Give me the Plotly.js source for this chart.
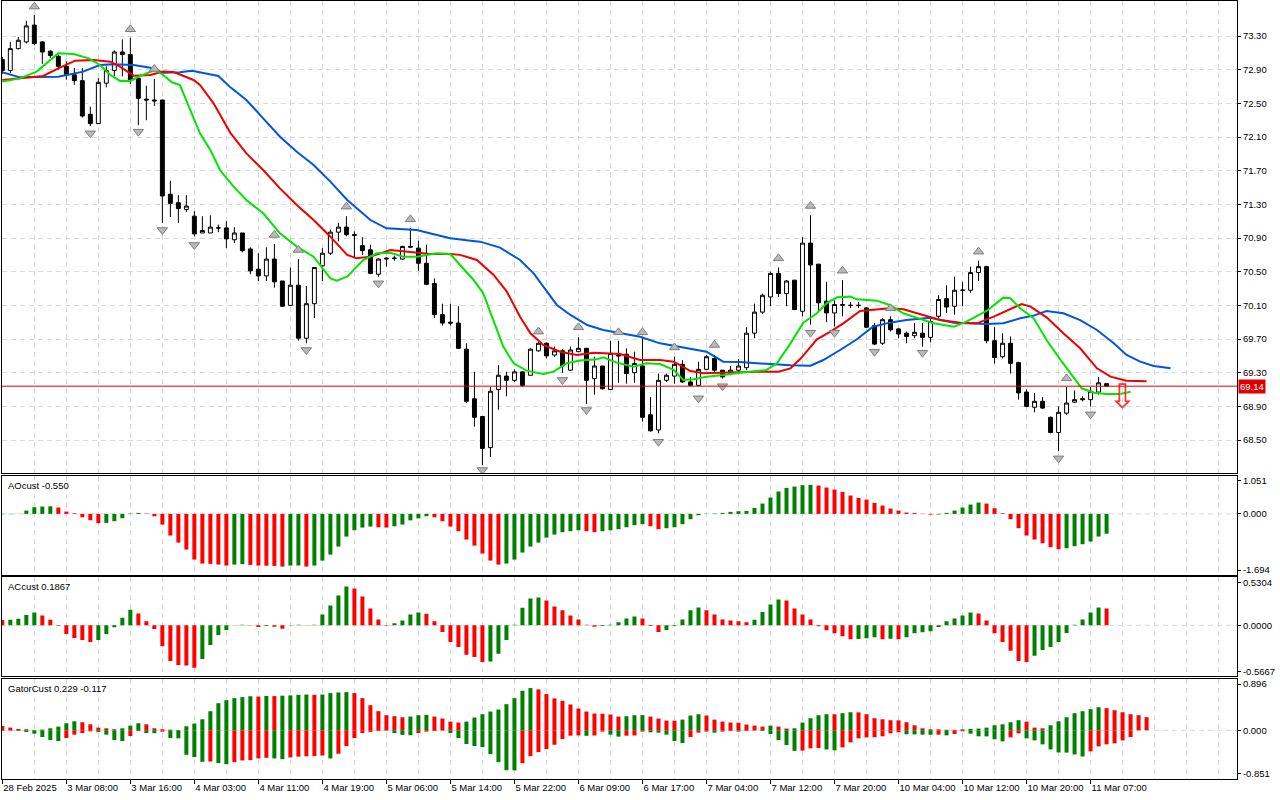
<!DOCTYPE html>
<html>
<head>
<meta charset="utf-8">
<script src="https://cdn.plot.ly/plotly-3.0.1.min.js"></script>
<style>
  html, body { margin: 0; padding: 0; background: #fff; }
  #chart { width: 1280px; height: 800px; }
</style>
</head>
<body>
<div id="chart"></div>
<script>
// H1 bars, 28 Feb 2025 .. 11 Mar 2025
var opens = [
  73.02,72.89,73.15,73.23,73.43,73.23,73.12,73.06,72.94,72.84,
  72.77,72.37,72.26,72.74,72.89,73.11,73.08,72.80,72.55,72.54,
  72.54,71.42,71.32,71.24,71.16,70.96,70.96,71.02,71.02,70.88,
  70.96,70.77,70.53,70.45,70.65,70.39,70.10,70.34,69.71,70.12,
  70.57,70.72,70.97,71.03,70.93,70.81,70.76,70.47,70.65,70.66,
  70.65,70.79,70.78,70.60,70.36,69.99,69.90,69.89,69.58,68.99,
  68.78,68.41,69.10,69.26,69.21,69.31,69.27,69.56,69.65,69.51,
  69.56,69.33,69.55,69.59,69.23,69.38,69.10,69.51,69.52,69.30,
  69.38,68.80,68.62,69.21,69.26,69.40,69.19,69.15,69.34,69.47,
  69.33,69.29,69.33,69.36,69.77,70.02,70.20,70.48,70.24,70.40,
  70.03,70.84,70.59,70.15,70.01,70.10,70.10,70.10,70.07,69.86,
  69.65,69.93,69.82,69.77,69.74,69.77,69.72,69.97,70.18,70.09,
  70.28,70.28,70.49,70.56,69.68,69.49,69.65,69.42,69.07,68.89,
  68.96,68.77,68.59,68.82,68.95,68.98,68.98,69.07,69.17
];
var highs = [
  73.05,73.23,73.29,73.48,73.55,73.24,73.13,73.08,73.00,72.92,
  72.92,72.46,72.80,72.94,73.13,73.26,73.28,72.82,72.71,72.79,
  72.54,71.58,71.41,71.41,71.22,71.16,71.17,71.06,71.10,71.03,
  70.96,70.79,70.72,70.79,70.83,70.39,70.55,70.65,70.33,70.55,
  70.78,71.00,71.08,71.16,70.98,70.91,70.82,70.66,70.67,70.69,
  70.81,71.02,70.87,70.82,70.42,70.12,70.12,70.09,69.65,69.31,
  68.78,69.13,69.39,69.31,69.34,69.32,69.59,69.67,69.66,69.61,
  69.58,69.61,69.72,69.59,69.49,69.38,69.68,69.68,69.59,69.55,
  69.72,69.01,69.29,69.29,69.49,69.45,69.25,69.43,69.51,69.51,
  69.33,69.38,69.46,69.84,70.12,70.24,70.50,70.55,70.40,70.40,
  70.91,71.17,70.59,70.38,70.16,70.40,70.14,70.14,70.08,69.89,
  69.95,69.97,69.83,69.79,69.89,69.89,69.97,70.22,70.34,70.44,
  70.38,70.56,70.63,70.57,69.84,69.77,69.73,69.43,69.10,69.06,
  69.01,68.78,68.90,69.13,69.09,69.02,69.13,69.25,69.17
];
var lows = [
  72.85,72.86,73.14,73.21,73.19,72.97,73.04,72.90,72.78,72.72,
  72.33,72.23,72.26,72.69,72.82,72.82,72.73,72.24,72.30,72.47,
  71.08,71.15,71.08,71.21,70.92,70.96,70.96,70.97,70.78,70.84,
  70.73,70.47,70.39,70.39,70.31,70.08,70.10,69.68,69.65,69.95,
  70.39,70.70,70.86,70.92,70.66,70.70,70.47,70.44,70.56,70.63,
  70.64,70.78,70.51,70.34,69.95,69.86,69.86,69.59,68.94,68.66,
  68.20,68.30,68.86,69.02,69.19,69.13,69.27,69.55,69.47,69.49,
  69.30,69.32,69.55,68.93,69.04,69.10,69.10,69.18,69.17,69.18,
  68.72,68.60,68.58,69.19,69.17,69.18,69.14,69.14,69.33,69.31,
  69.23,69.27,69.29,69.33,69.71,70.00,70.09,70.20,70.09,70.05,
  69.97,69.87,70.03,69.90,69.85,69.97,70.07,70.07,69.84,69.63,
  69.63,69.79,69.71,69.65,69.71,69.61,69.66,69.95,70.01,69.99,
  70.09,70.25,70.39,69.65,69.41,69.47,69.29,68.98,68.89,68.83,
  68.87,68.58,68.37,68.80,68.94,68.96,68.90,69.04,69.14
];
var closes = [
  72.89,73.15,73.25,73.42,73.21,73.11,73.07,72.94,72.84,72.77,
  72.35,72.26,72.75,72.89,73.11,73.08,72.78,72.56,72.54,72.53,
  71.40,71.31,71.25,71.28,70.95,70.99,71.03,71.02,70.89,70.96,
  70.75,70.51,70.45,70.65,70.38,70.09,70.34,69.71,70.12,70.55,
  70.72,70.97,71.03,70.94,70.94,70.75,70.48,70.65,70.66,70.66,
  70.80,70.80,70.60,70.35,69.99,69.89,69.89,69.59,68.96,68.77,
  68.40,69.08,69.27,69.21,69.31,69.15,69.58,69.65,69.50,69.56,
  69.38,69.57,69.59,69.21,69.38,69.11,69.53,69.50,69.29,69.41,
  68.77,68.61,69.21,69.27,69.40,69.19,69.15,69.34,69.49,69.33,
  69.25,69.33,69.38,69.77,70.02,70.22,70.48,70.24,70.39,70.05,
  70.84,70.58,70.13,70.01,70.11,70.11,70.10,70.10,69.84,69.64,
  69.93,69.81,69.76,69.73,69.78,69.72,69.91,70.17,70.08,70.28,
  70.28,70.49,70.56,69.68,69.48,69.65,69.41,69.06,68.90,68.96,
  68.88,68.59,68.83,68.94,68.98,68.99,69.08,69.18,69.14
];

// Alligator lines (bar position, value), already shifted forward
var jawX = [0,2.2,7,10.1,12.2,13.9,16.4,18.5,20.1,22.2,23.7,25.5,27,28.5,30.5,32.6,34.7,36.8,38.9,41,43.1,44.3,46,48,51.8,54.3,56,58.5,59.7,62.2,64.7,66.4,68.1,69.3,71,73.1,75.1,77.2,79.7,82.2,84.7,86,88,90.1,92.2,94.3,96.4,98.5,101,102.6,104.7,106.8,108.8,110.9,113,114.7,116,118.9,123,125.1,127.2,128.9,130.5,132.6,134.7,136.8,138.9,140.5,142.2,143.9,146];
var jawY = [72.869,72.809,72.817,72.877,72.956,72.964,72.956,72.924,72.865,72.869,72.888,72.849,72.825,72.69,72.54,72.322,72.104,71.926,71.768,71.57,71.352,71.253,71.114,71.015,70.996,70.936,70.897,70.869,70.857,70.786,70.639,70.481,70.263,70.105,69.986,69.867,69.808,69.768,69.728,69.649,69.61,69.59,69.55,69.431,69.427,69.412,69.4,69.388,69.384,69.451,69.57,69.697,69.847,69.895,69.926,69.946,69.954,69.895,69.879,69.887,69.946,69.978,70.033,70.006,69.926,69.808,69.649,69.511,69.431,69.38,69.352];
var teethX = [0,2.2,5.1,7,9.1,11.4,13.5,14.7,16.4,18.5,20.1,21.4,22.4,23.9,24.7,26.4,28.5,30.5,32.6,34.7,36.8,38.9,41,43.1,44.3,46,48.5,51,53.5,56,57.2,59.3,61.4,63.05,64.7,66,67.6,69.7,71.8,73.9,76,77.2,79.7,82.2,83.9,86,87.6,90.1,94.3,97,98.5,99.8,101.8,103.5,105.1,107.2,109.3,110.9,112.6,114.5,117.2,119.7,121.8,123.9,126,127.4,128.5,130.5,132.6,134.7,136.8,138.5,140.5,143];
var teethY = [72.778,72.797,72.825,72.916,73.007,73.015,72.995,72.936,72.829,72.837,72.877,72.873,72.837,72.778,72.718,72.50,72.15,71.906,71.708,71.49,71.293,71.114,70.916,70.699,70.659,70.679,70.758,70.738,70.71,70.71,70.70,70.639,70.461,70.263,69.966,69.768,69.63,69.55,69.511,69.538,69.523,69.523,69.451,69.451,69.431,69.32,69.293,69.301,69.313,69.313,69.352,69.471,69.697,69.788,69.887,70.033,70.053,70.065,70.053,70.0,69.926,69.895,69.887,69.966,70.053,70.117,70.085,69.958,69.768,69.59,69.352,69.253,69.206,69.198];
var lipsX = [0,2.2,4.3,7,8.9,10.8,12.2,13.5,14.7,16,17.2,19.1,20.1,21.2,22.2,23.5,24.7,26,27.2,28.9,30.5,32.6,34.7,36.8,38.9,41,41.8,43.1,45.1,46.8,48.5,50.1,51.8,54.3,56,57.2,58.9,60.1,61.4,62.6,63.9,65.5,67.6,68.9,70.5,72.2,74.3,75.1,76.8,78.9,80.5,82.2,83.9,85.1,86.4,88,90.1,92.2,95.5,96.8,98.5,100.1,101.8,103,104.3,106,106.8,109.3,110.9,112.6,114.5,116.4,118.9,120.5,123.05,125.1,126,127.2,128.9,130.5,132.2,133.5,134.9,136.4,138,139.7,141];
var lipsY = [72.758,72.797,72.877,73.094,73.087,73.035,72.956,72.837,72.766,72.766,72.825,72.896,72.837,72.75,72.718,72.421,72.144,71.946,71.708,71.51,71.352,71.194,70.956,70.798,70.679,70.421,70.394,70.441,70.639,70.718,70.726,70.679,70.679,70.718,70.71,70.58,70.402,70.243,69.926,69.61,69.412,69.325,69.285,69.313,69.412,69.444,69.459,69.483,69.42,69.372,69.412,69.404,69.333,69.214,69.222,69.253,69.273,69.301,69.333,69.412,69.649,69.895,70.006,70.124,70.196,70.204,70.172,70.156,70.105,70.006,69.946,69.887,69.847,69.907,70.037,70.192,70.184,70.065,69.946,69.689,69.459,69.293,69.115,69.063,69.047,69.047,69.075];

// Fractal arrows (bar, price of the arrow)
var fracUpBar = [4,16,19,34,37,43,51,67,72,77,80,84,89,97,101,105,111,122,133];
var fracUpVal = [73.649,73.38,72.908,70.936,70.758,71.273,71.122,69.788,69.84,69.78,69.78,69.60,69.63,70.659,71.281,70.512,70.065,70.738,69.233];
var fracDnBar = [11,17,20,24,38,47,60,70,73,82,87,90,101,104,109,115,132,136];
var fracDnVal = [72.144,72.164,70.996,70.818,69.57,70.362,68.144,69.214,68.857,68.48,68.996,69.14,69.776,69.776,69.55,69.538,68.283,68.806];
// sell signal arrow
var signalBar = [140];
var signalVal = [68.98];

var ao = [
  -0.01,-0.008,0.005,0.092,0.185,0.203,0.21,0.176,0.065,0.018,
  -0.092,-0.176,-0.259,-0.25,-0.203,-0.12,0.01,0.028,0.01,-0.065,
  -0.296,-0.60,-0.795,-0.989,-1.266,-1.377,-1.385,-1.404,-1.432,-1.404,
  -1.395,-1.414,-1.432,-1.436,-1.441,-1.46,-1.432,-1.43,-1.46,-1.432,
  -1.294,-1.127,-0.906,-0.628,-0.453,-0.379,-0.351,-0.37,-0.379,-0.342,
  -0.296,-0.18,-0.125,-0.065,-0.092,-0.203,-0.351,-0.48,-0.711,-0.878,
  -1.10,-1.294,-1.404,-1.377,-1.266,-1.072,-0.906,-0.795,-0.656,-0.573,
  -0.508,-0.48,-0.453,-0.48,-0.508,-0.48,-0.453,-0.425,-0.37,-0.314,
  -0.286,-0.342,-0.425,-0.397,-0.37,-0.286,-0.148,-0.037,0.005,0.01,
  0.028,0.055,0.074,0.083,0.166,0.286,0.453,0.619,0.721,0.758,
  0.795,0.804,0.785,0.73,0.675,0.61,0.508,0.444,0.397,0.305,
  0.231,0.148,0.092,0.037,0.028,-0.005,-0.02,-0.015,0.028,0.092,
  0.176,0.259,0.314,0.286,0.157,0.018,-0.148,-0.397,-0.60,-0.711,
  -0.813,-0.924,-0.98,-0.952,-0.896,-0.841,-0.767,-0.628,-0.55
];
var ac = [
  0.06,0.063,0.074,0.114,0.143,0.11,0.063,-0.005,-0.096,-0.14,
  -0.162,-0.184,-0.162,-0.096,-0.022,0.085,0.173,0.132,0.044,-0.04,
  -0.232,-0.394,-0.441,-0.445,-0.471,-0.372,-0.217,-0.107,-0.052,0.004,
  0.007,0.004,-0.018,-0.008,-0.015,-0.037,0.004,0.007,0.004,0.007,
  0.121,0.221,0.331,0.43,0.408,0.32,0.188,0.066,-0.004,0.022,
  0.055,0.121,0.143,0.129,0.044,-0.074,-0.184,-0.239,-0.327,-0.35,
  -0.405,-0.40,-0.316,-0.162,0.007,0.195,0.298,0.309,0.276,0.21,
  0.166,0.11,0.066,0.007,-0.015,-0.007,0.007,0.033,0.077,0.099,
  0.077,-0.007,-0.074,-0.052,-0.007,0.066,0.166,0.199,0.166,0.121,
  0.066,0.055,0.044,0.033,0.063,0.147,0.232,0.287,0.276,0.188,
  0.121,0.066,-0.011,-0.055,-0.088,-0.121,-0.155,-0.152,-0.143,-0.132,
  -0.155,-0.15,-0.155,-0.132,-0.088,-0.077,-0.066,-0.018,0.044,0.077,
  0.11,0.143,0.132,0.055,-0.088,-0.184,-0.283,-0.394,-0.405,-0.338,
  -0.272,-0.239,-0.184,-0.085,0.007,0.066,0.143,0.199,0.1867
];
var gatorUp = [
  0.076,0.047,0.023,0.018,0.006,0.012,0.035,0.064,0.123,0.158,
  0.141,0.105,0.047,0.035,0.018,0.035,0.082,0.123,0.105,0.035,
  0.018,0.012,0.006,0.07,0.117,0.193,0.334,0.474,0.527,0.562,
  0.58,0.595,0.59,0.60,0.598,0.605,0.61,0.62,0.625,0.62,
  0.625,0.65,0.662,0.668,0.65,0.562,0.439,0.334,0.264,0.246,
  0.228,0.24,0.264,0.27,0.24,0.205,0.152,0.135,0.152,0.223,
  0.281,0.328,0.363,0.457,0.562,0.691,0.738,0.715,0.633,0.557,
  0.515,0.451,0.381,0.328,0.293,0.29,0.275,0.24,0.246,0.264,
  0.266,0.24,0.205,0.17,0.168,0.187,0.258,0.281,0.258,0.187,
  0.152,0.135,0.133,0.1,0.082,0.064,0.082,0.064,0.03,0.035,
  0.135,0.211,0.264,0.281,0.28,0.299,0.316,0.314,0.281,0.211,
  0.193,0.176,0.174,0.141,0.088,0.035,0.018,0.017,0.01,0.008,
  0.018,0.025,0.03,0.047,0.088,0.105,0.141,0.176,0.152,0.047,
  0.035,0.088,0.158,0.228,0.299,0.334,0.369,0.404,0.387,0.351,
  0.316,0.281,0.264,0.229
];
var gatorDown = [
  -0.01,-0.006,-0.012,-0.029,-0.059,-0.117,-0.17,-0.188,-0.135,-0.076,
  -0.047,-0.018,-0.029,-0.076,-0.17,-0.188,-0.10,-0.012,-0.047,-0.05,
  -0.023,-0.135,-0.14,-0.428,-0.469,-0.551,-0.545,-0.574,-0.592,-0.557,
  -0.527,-0.521,-0.492,-0.48,-0.492,-0.504,-0.474,-0.46,-0.455,-0.45,
  -0.44,-0.492,-0.41,-0.275,-0.135,-0.047,-0.029,-0.012,-0.006,-0.047,
  -0.08,-0.085,-0.047,-0.023,-0.012,-0.006,-0.047,-0.135,-0.24,-0.275,
  -0.293,-0.416,-0.557,-0.697,-0.70,-0.574,-0.451,-0.381,-0.328,-0.252,
  -0.152,-0.094,-0.09,-0.096,-0.09,-0.023,-0.076,-0.111,-0.094,-0.09,
  -0.023,-0.035,-0.041,-0.076,-0.187,-0.223,-0.117,-0.041,-0.023,-0.041,
  -0.023,-0.012,-0.023,-0.012,-0.006,-0.012,-0.064,-0.17,-0.258,-0.36,
  -0.355,-0.315,-0.31,-0.334,-0.351,-0.299,-0.211,-0.141,-0.123,-0.12,
  -0.105,-0.053,-0.035,-0.07,-0.072,-0.076,-0.078,-0.076,-0.088,-0.064,
  -0.018,-0.059,-0.105,-0.107,-0.158,-0.193,-0.123,-0.053,-0.141,-0.176,
  -0.246,-0.334,-0.387,-0.39,-0.422,-0.457,-0.369,-0.281,-0.246,-0.228,
  -0.176,-0.117
];

var tickLabels = ['28 Feb 2025','3 Mar 08:00','3 Mar 16:00','4 Mar 03:00','4 Mar 11:00','4 Mar 19:00',
  '5 Mar 06:00','5 Mar 14:00','5 Mar 22:00','6 Mar 09:00','6 Mar 17:00','7 Mar 04:00','7 Mar 12:00',
  '7 Mar 20:00','10 Mar 04:00','10 Mar 12:00','10 Mar 20:00','11 Mar 07:00'];
var tickBars = [0,8,16,24,32,40,48,56,64,72,80,88,96,104,112,120,128,136];
var priceTicks = [68.50,68.90,69.30,69.70,70.10,70.50,70.90,71.30,71.70,72.10,72.50,72.90,73.30];
var aoRange = [-1.694, 1.051];
var acRange = [-0.5667, 0.5304];
var gatorRange = [-0.851, 0.896];

var GREEN = '#008000', RED = '#ff0000';
var GRID = '#d9d9d9';
var FONT = 'Liberation Sans, Arial, sans-serif';

function bars(n) { var a = []; for (var i = 0; i < n; i++) a.push(i); return a; }

function colorsUp(vals, first) {
  return vals.map(function(v, i) {
    if (i === 0) return first;
    return v > vals[i - 1] ? GREEN : RED;
  });
}
function colorsAbs(vals, first) {
  return vals.map(function(v, i) {
    if (i === 0) return first;
    return Math.abs(v) > Math.abs(vals[i - 1]) ? GREEN : RED;
  });
}

var candles = {
  type: 'candlestick',
  x: bars(closes.length),
  open: opens, high: highs, low: lows, close: closes,
  increasing: {line: {color: '#000', width: 1}, fillcolor: '#fff'},
  decreasing: {line: {color: '#000', width: 1}, fillcolor: '#000'},
  whiskerwidth: 0,
  hoverinfo: 'skip',
  xaxis: 'x', yaxis: 'y'
};

function lineTrace(xs, ys, color) {
  return {type: 'scatter', mode: 'lines', x: xs, y: ys,
    line: {color: color, width: 2}, hoverinfo: 'skip', xaxis: 'x', yaxis: 'y'};
}

var fracUp = {
  type: 'scatter', mode: 'markers', x: fracUpBar, y: fracUpVal,
  marker: {symbol: 'triangle-up', size: 9, color: '#b8b8b8', line: {color: '#7f7f7f', width: 1}},
  hoverinfo: 'skip', xaxis: 'x', yaxis: 'y'
};
var fracDn = {
  type: 'scatter', mode: 'markers', x: fracDnBar, y: fracDnVal,
  marker: {symbol: 'triangle-down', size: 9, color: '#b8b8b8', line: {color: '#7f7f7f', width: 1}},
  hoverinfo: 'skip', xaxis: 'x', yaxis: 'y'
};
var signal = {
  type: 'scatter', mode: 'text', x: signalBar, y: signalVal, text: ['\u21e9'],
  textfont: {family: 'DejaVu Sans', size: 34, color: '#ff3030'},
  hoverinfo: 'skip', xaxis: 'x', yaxis: 'y'
};

var aoTrace = {
  type: 'bar', x: bars(ao.length), y: ao, width: 0.5,
  marker: {color: colorsUp(ao, GREEN), line: {width: 0}},
  hoverinfo: 'skip', xaxis: 'x2', yaxis: 'y2'
};
var acTrace = {
  type: 'bar', x: bars(ac.length), y: ac, width: 0.5,
  marker: {color: colorsUp(ac, RED), line: {width: 0}},
  hoverinfo: 'skip', xaxis: 'x3', yaxis: 'y3'
};
var gUpTrace = {
  type: 'bar', x: bars(gatorUp.length), y: gatorUp, width: 0.5,
  marker: {color: colorsUp(gatorUp, RED), line: {width: 0}},
  hoverinfo: 'skip', xaxis: 'x4', yaxis: 'y4'
};
var gDnTrace = {
  type: 'bar', x: bars(gatorDown.length), y: gatorDown, width: 0.5,
  marker: {color: colorsAbs(gatorDown, GREEN), line: {width: 0}},
  hoverinfo: 'skip', xaxis: 'x4', yaxis: 'y4'
};

var xRange = [-0.04, 154.3];

function xAxis(anchor, labels) {
  var ax = {
    anchor: anchor, range: xRange, domain: [0, 1],
    showline: true, mirror: true, linecolor: '#000', linewidth: 1,
    zeroline: false,
    tickmode: 'array', tickvals: tickBars, ticktext: tickLabels,
    tickangle: 0,
    showgrid: true, gridcolor: GRID, griddash: '5px,4px', gridwidth: 1,
    minor: {tickmode: 'linear', tick0: 0, dtick: 4, showgrid: true, gridcolor: GRID, griddash: '5px,4px', ticks: ''},
    showticklabels: labels,
    ticks: labels ? 'outside' : '', ticklen: 4, tickcolor: '#000',
    ticklabelposition: 'outside right',
    tickfont: {family: FONT, size: 9.5, color: '#000'},
    automargin: false,
    fixedrange: true
  };
  if (anchor !== 'y') ax.matches = 'x';
  return ax;
}

function indAxis(domain, range, digits) {
  var span = range[1] - range[0];
  return {
    domain: domain, range: range, side: 'right',
    tickmode: 'array',
    tickvals: [range[1] - 0.05 * span, 0, range[0] + 0.05 * span],
    ticktext: [range[1].toFixed(digits), (0).toFixed(digits), range[0].toFixed(digits)],
    ticks: 'outside', ticklen: 3, tickcolor: '#000',
    tickfont: {family: FONT, size: 9.5, color: '#000'},
    showgrid: false, zeroline: false,
    showline: true, mirror: true, linecolor: '#000', linewidth: 1,
    automargin: false,
    fixedrange: true
  };
}

var lastClose = closes[closes.length - 1];

var layout = {
  width: 1280, height: 800,
  margin: {l: 2, r: 43, t: 1, b: 21},
  paper_bgcolor: '#fff', plot_bgcolor: '#fff',
  showlegend: false,
  barmode: 'overlay',
  hovermode: false,
  font: {family: FONT, size: 9.5, color: '#000'},
  xaxis: Object.assign(xAxis('y', false), {rangeslider: {visible: false}}),
  xaxis2: xAxis('y2', false),
  xaxis3: xAxis('y3', false),
  xaxis4: xAxis('y4', true),
  yaxis: {
    domain: [0.3927, 1], range: [68.103, 73.716], side: 'right',
    tickmode: 'array', tickvals: priceTicks,
    ticktext: priceTicks.map(function(v) { return v.toFixed(2); }),
    ticks: 'outside', ticklen: 3, tickcolor: '#000',
    tickfont: {family: FONT, size: 9.5, color: '#000'},
    showgrid: true, gridcolor: GRID, griddash: '5px,4px', gridwidth: 1,
    zeroline: false,
    showline: true, mirror: true, linecolor: '#000', linewidth: 1,
    automargin: false,
    fixedrange: true
  },
  yaxis2: indAxis([0.2622, 0.3895], aoRange, 3),
  yaxis3: indAxis([0.1318, 0.2590], acRange, 4),
  yaxis4: indAxis([0, 0.1285], gatorRange, 3),
  shapes: [
    {type: 'line', xref: 'x domain', x0: 0, x1: 1, yref: 'y', y0: lastClose, y1: lastClose,
      line: {color: '#e00000', width: 1}},
    {type: 'line', xref: 'x2 domain', x0: 0, x1: 1, yref: 'y2', y0: 0, y1: 0,
      line: {color: GRID, width: 1, dash: '5px,4px'}, layer: 'below'},
    {type: 'line', xref: 'x3 domain', x0: 0, x1: 1, yref: 'y3', y0: 0, y1: 0,
      line: {color: GRID, width: 1, dash: '5px,4px'}, layer: 'below'},
    {type: 'line', xref: 'x4 domain', x0: 0, x1: 1, yref: 'y4', y0: 0, y1: 0,
      line: {color: GRID, width: 1, dash: '5px,4px'}, layer: 'below'}
  ],
  annotations: [
    {xref: 'paper', x: 1, xanchor: 'left', xshift: 1, yref: 'y', y: lastClose, yanchor: 'middle',
      text: lastClose.toFixed(2), showarrow: false, bgcolor: '#e00000', borderpad: 1,
      font: {family: FONT, size: 9.5, color: '#fff'}},
    {xref: 'paper', x: 0, xanchor: 'left', xshift: 4, yref: 'y2 domain', y: 1, yanchor: 'top', yshift: -2,
      text: 'AOcust ' + ao[ao.length - 1].toFixed(3), showarrow: false,
      font: {family: FONT, size: 9.5, color: '#000'}},
    {xref: 'paper', x: 0, xanchor: 'left', xshift: 4, yref: 'y3 domain', y: 1, yanchor: 'top', yshift: -2,
      text: 'ACcust ' + ac[ac.length - 1].toFixed(4), showarrow: false,
      font: {family: FONT, size: 9.5, color: '#000'}},
    {xref: 'paper', x: 0, xanchor: 'left', xshift: 4, yref: 'y4 domain', y: 1, yanchor: 'top', yshift: -2,
      text: 'GatorCust ' + gatorUp[gatorUp.length - 1].toFixed(3) + ' ' + gatorDown[gatorDown.length - 1].toFixed(3),
      showarrow: false, font: {family: FONT, size: 9.5, color: '#000'}}
  ]
};

var data = [
  candles,
  lineTrace(jawX, jawY, '#0055dd'),
  lineTrace(teethX, teethY, '#ee0000'),
  lineTrace(lipsX, lipsY, '#00e600'),
  fracUp, fracDn, signal,
  aoTrace, acTrace, gUpTrace, gDnTrace
];

Plotly.newPlot('chart', data, layout, {staticPlot: true, displayModeBar: false});
</script>
</body>
</html>
